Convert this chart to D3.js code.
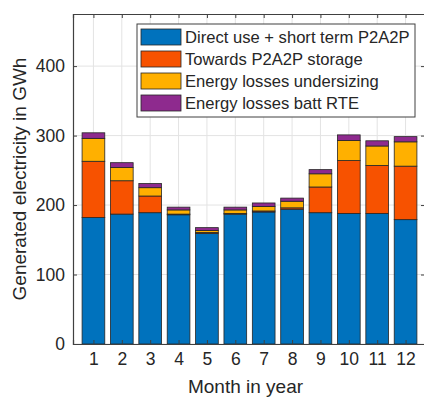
<!DOCTYPE html>
<meta charset="utf-8">
<script src="https://d3js.org/d3.v7.min.js"></script>
<style>
body { margin: 0; background: #fff; font-family: "Liberation Sans", Arial, sans-serif; }
</style>
<div id="chart"></div>
<script>
// Data (GWh per month)
var months = [1, 2, 3, 4, 5, 6, 7, 8, 9, 10, 11, 12]
var directUse = [182, 187, 189, 186, 159, 187, 190, 194, 189, 188, 188, 179]
var towardsStorage = [81, 48, 24, 1, 1.5, 1, 1.5, 2, 37, 76, 69, 77]
var lossesUndersizing = [33, 19, 12, 6, 3, 5, 6.5, 9.5, 19, 29, 28, 35]
var lossesBattRTE = [8, 7, 6, 4, 4, 4, 5, 4.5, 6, 8, 7.5, 7.5]
var seriesNames = ["Direct use + short term P2A2P", "Towards P2A2P storage",
                   "Energy losses undersizing", "Energy losses batt RTE"]
var colors = ["#0072BD", "#F75200", "#FFB000", "#8E2A8E"]
var yTicks = [0, 100, 200, 300, 400]

var width = 424, height = 398
// plot box (note: "top" is reserved on window, so use other names)
var plotLeft = 73, plotRight = 426, plotTop = 14, plotBottom = 344

var svg = d3.select("#chart").append("svg")
  .attr("width", width)
  .attr("height", height)

var x = d3.scaleLinear().domain([0.28, 12.72]).range([plotLeft, plotRight])
var y = d3.scaleLinear().domain([0, 475]).range([plotBottom, plotTop])

// table for the stack
var table = months.map(function(m, i) {
  return { month: m, a: directUse[i], b: towardsStorage[i], c: lossesUndersizing[i], d: lossesBattRTE[i] }
})
var stacked = d3.stack().keys(["a", "b", "c", "d"])(table)

// grid
var grid = svg.append("g").attr("stroke", "#e3e3e3").attr("stroke-width", 1)
grid.selectAll(".gx").data(months).enter().append("line")
  .attr("x1", function(d){ return x(d) }).attr("x2", function(d){ return x(d) })
  .attr("y1", plotTop).attr("y2", plotBottom)
grid.selectAll(".gy").data(yTicks).enter().append("line")
  .attr("x1", plotLeft).attr("x2", plotRight)
  .attr("y1", function(d){ return y(d) }).attr("y2", function(d){ return y(d) })

// bars
var bw = 0.8
svg.append("g").selectAll("g")
  .data(stacked)
  .enter().append("g")
    .attr("fill", function(d, i){ return colors[i] })
  .selectAll("rect")
  .data(function(d){ return d })
  .enter().append("rect")
    .attr("x", function(d){ return x(d.data.month - bw / 2) })
    .attr("width", x(bw) - x(0))
    .attr("y", function(d){ return y(d[1]) })
    .attr("height", function(d){ return y(d[0]) - y(d[1]) })
    .attr("stroke", "#262626")
    .attr("stroke-width", 0.8)

// axes
var axisColor = "#404040"
var xAxis = svg.append("g")
  .attr("transform", "translate(0," + plotBottom + ")")
  .call(d3.axisBottom(x).tickValues(months).tickSize(-4).tickPadding(9).tickFormat(d3.format("d")))
var yAxis = svg.append("g")
  .attr("transform", "translate(" + plotLeft + ",0)")
  .call(d3.axisLeft(y).tickValues(yTicks).tickSize(-4).tickPadding(8))
var topAxis = svg.append("g")
  .attr("transform", "translate(0," + plotTop + ")")
  .call(d3.axisTop(x).tickValues(months).tickSize(-4).tickFormat(""))
var rightAxis = svg.append("g")
  .attr("transform", "translate(" + (plotRight - 1) + ",0)")
  .call(d3.axisRight(y).tickValues(yTicks).tickSize(-4).tickFormat(""))

;[xAxis, yAxis, topAxis, rightAxis].forEach(function(a) {
  a.select(".domain").attr("stroke", axisColor).attr("stroke-width", 1.2)
  a.selectAll(".tick line").attr("stroke", axisColor)
  a.selectAll("text")
    .attr("fill", "#262626")
    .style("font-size", "17.5px")
    .style("font-family", "'Liberation Sans', Arial, sans-serif")
})

// axis labels
svg.append("text")
  .attr("x", (plotLeft + plotRight) / 2 - 4)
  .attr("y", 393)
  .attr("text-anchor", "middle")
  .attr("fill", "#262626")
  .style("font-size", "19px")
  .text("Month in year")

svg.append("text")
  .attr("transform", "translate(26," + ((plotTop + plotBottom) / 2) + ") rotate(-90)")
  .attr("text-anchor", "middle")
  .attr("fill", "#262626")
  .style("font-size", "19px")
  .text("Generated electricity in GWh")

// legend
var legend = svg.append("g").attr("transform", "translate(137,24)")
legend.append("rect")
  .attr("width", 278).attr("height", 93)
  .attr("fill", "#fff").attr("stroke", "#404040").attr("stroke-width", 1)
var item = legend.selectAll(".item").data(seriesNames).enter().append("g")
  .attr("transform", function(d, i){ return "translate(4," + (5 + i * 22) + ")" })
item.append("rect")
  .attr("width", 40).attr("height", 16)
  .attr("fill", function(d, i){ return colors[i] })
  .attr("stroke", "#262626").attr("stroke-width", 0.8)
item.append("text")
  .attr("x", 44).attr("y", 14)
  .attr("fill", "#262626")
  .style("font-size", "16.6px")
  .text(function(d){ return d })
</script>
